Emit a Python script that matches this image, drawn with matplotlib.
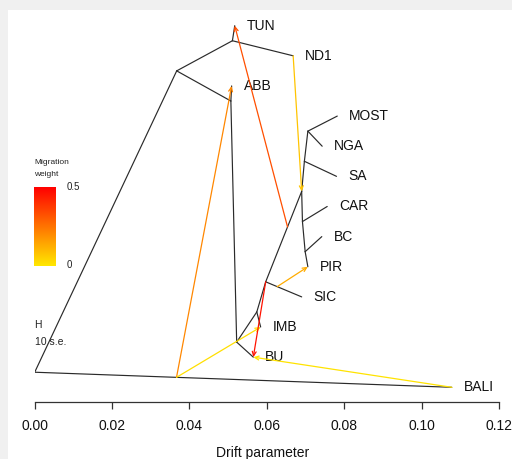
import matplotlib
matplotlib.use("Agg")
import matplotlib.pyplot as plt
import numpy as np
from matplotlib.colors import LinearSegmentedColormap
from matplotlib.patches import Rectangle

plt.rcParams['font.family'] = ['Liberation Sans', 'DejaVu Sans']

# ---- tree nodes: drift (x) and vertical position (y, leaf-rank units) ----
node_names = ["root", "B", "C", "TUN", "ND1", "D", "ABB", "G", "BU", "H", "IMB",
              "E", "SIC", "F", "SAn", "N1", "MOST", "NGA", "SA", "CARn", "CAR",
              "BCn", "BC", "PIR", "BALI"]
node_drift = [0.0, 0.0367, 0.0511, 0.0517, 0.0668, 0.0507, 0.0509, 0.0522, 0.0565,
              0.0574, 0.0584, 0.0597, 0.0690, 0.0690, 0.0697, 0.0706, 0.0782, 0.0743,
              0.0780, 0.0692, 0.0756, 0.0699, 0.0742, 0.0706, 0.1078]
node_y = [0.5, 10.5, 11.5, 12, 11, 9.5, 10, 1.5, 1, 2.5, 2,
          3.5, 3, 6.5, 7.5, 8.5, 9, 8, 7, 5.5, 6, 4.5, 5, 4, 0]

edge_parent = ["root", "root", "B", "C", "C", "B", "D", "D", "G", "G", "H", "H",
               "E", "E", "F", "SAn", "N1", "N1", "SAn", "F", "CARn", "CARn", "BCn", "BCn"]
edge_child = ["BALI", "B", "C", "TUN", "ND1", "D", "ABB", "G", "BU", "H", "IMB", "E",
              "SIC", "F", "SAn", "N1", "MOST", "NGA", "SA", "CARn", "CAR", "BCn", "BC", "PIR"]

leaf_names = ["TUN", "ND1", "ABB", "MOST", "NGA", "SA", "CAR", "BC", "PIR",
              "SIC", "IMB", "BU", "BALI"]

# ---- migration edges: source = point along branch (parent->child, fraction) ----
mig_src_parent = ["root", "E", "C", "E", "root", "root", "H"]
mig_src_child = ["BALI", "F", "ND1", "SIC", "BALI", "BALI", "E"]
mig_src_frac = [0.34, 0.607, 1.0, 0.32, 0.34, 1.0, 1.0]
mig_target = ["ABB", "TUN", "F", "PIR", "IMB", "BU", "BU"]
mig_weight = [0.21, 0.33, 0.08, 0.13, 0.02, 0.01, 0.46]

xticks = [0.00, 0.02, 0.04, 0.06, 0.08, 0.10, 0.12]
legend_ticks = [0, 0.5]

W, Hh = 512, 459
fig = plt.figure(figsize=(W / 100, Hh / 100), dpi=100, facecolor='#f0f0f0')
fig.patches.append(Rectangle((8 / W, 0), 1, (Hh - 10) / Hh, transform=fig.transFigure,
                             facecolor='white', edgecolor='none', zorder=-10))

ax = fig.add_axes([34.7 / W, 57 / Hh, 464.3 / W, 392 / Hh])
ax.set_facecolor('none')
ax.set_xlim(0, 0.12)
ax.set_ylim(-0.488, 12.52)

pos = {n: (x, y) for n, x, y in zip(node_names, node_drift, node_y)}

for p, c in zip(edge_parent, edge_child):
    ax.plot([pos[p][0], pos[c][0]], [pos[p][1], pos[c][1]], color='#2a2a2a', lw=0.85,
            solid_capstyle='round', zorder=2)

for n in leaf_names:
    ax.annotate(n, pos[n], xytext=(8.6, 0), textcoords='offset points', va='center',
                ha='left', fontsize=10, color='#111111')

cmap = LinearSegmentedColormap.from_list('mig', ['#FFE800', '#FF0000'])
for sp, sc, fr, tg, w in zip(mig_src_parent, mig_src_child, mig_src_frac, mig_target, mig_weight):
    x0 = pos[sp][0] + fr * (pos[sc][0] - pos[sp][0])
    y0 = pos[sp][1] + fr * (pos[sc][1] - pos[sp][1])
    col = cmap(w / 0.5)
    ax.annotate('', xy=pos[tg], xytext=(x0, y0),
                arrowprops=dict(arrowstyle='->,head_length=0.3,head_width=0.14',
                                color=col, lw=0.9, shrinkA=0, shrinkB=0), zorder=3)

for s in ['top', 'right', 'left']:
    ax.spines[s].set_visible(False)
ax.spines['bottom'].set_color('#333333')
ax.spines['bottom'].set_linewidth(0.9)
ax.set_yticks([])
ax.set_xticks(xticks)
ax.set_xticklabels([f"{t:.2f}" for t in xticks], fontsize=10, color='#111111')
ax.tick_params(axis='x', direction='out', length=5, width=0.9, color='#333333', pad=7)

fig.text(263 / W, 2 / Hh, "Drift parameter", ha='center', va='baseline', fontsize=10,
         color='#111111')

# legend
fig.text(34 / W, 1 - 162 / Hh, "Migration", ha='left', va='center', fontsize=6, color='#222222')
fig.text(34 / W, 1 - 175 / Hh, "weight", ha='left', va='center', fontsize=6, color='#222222')
cax = fig.add_axes([34.3 / W, (Hh - 265.7) / Hh, 21.7 / W, 79 / Hh])
grad = np.linspace(0, 1, 256).reshape(-1, 1)
cax.imshow(grad, cmap=cmap, origin='lower', aspect='auto')
cax.axis('off')
fig.text(67 / W, 1 - 187 / Hh, f"{legend_ticks[1]}", ha='left', va='center', fontsize=7, color='#222222')
fig.text(67 / W, 1 - 265 / Hh, f"{legend_ticks[0]}", ha='left', va='center', fontsize=7, color='#222222')

# scale bar
fig.text(34 / W, 1 - 325 / Hh, "H", ha='left', va='center', fontsize=7.5, color='#222222')
fig.text(35 / W, 1 - 342 / Hh, "10 s.e.", ha='left', va='center', fontsize=7.5, color='#222222')

fig.savefig("out.png", dpi=100, facecolor=fig.get_facecolor())
